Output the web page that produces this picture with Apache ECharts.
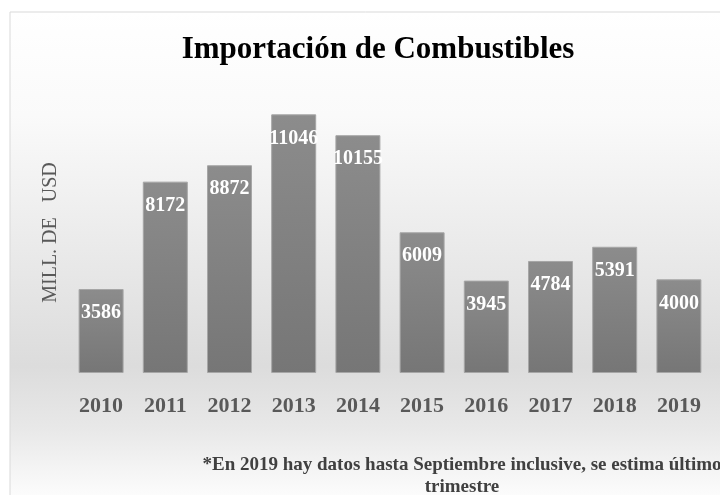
<!DOCTYPE html>
<html><head><meta charset="utf-8">
<script src="https://cdn.jsdelivr.net/npm/echarts@6/dist/echarts.min.js"></script>
<style>html,body{margin:0;padding:0;background:#fff}#c{width:720px;height:495px}</style>
</head><body><div id="c"></div>
<script>
const years = ['2010','2011','2012','2013','2014','2015','2016','2017','2018','2019'];
const values = [3586, 8172, 8872, 11046, 10155, 6009, 3945, 4784, 5391, 4000];
const titleText = 'Importación de Combustibles';
const yName = 'MILL. DE   USD';
const footnote = '*En 2019 hay datos hasta Septiembre inclusive, se estima último\ntrimestre';
const serif = '"Liberation Serif","DejaVu Serif",serif';

const chart = echarts.init(document.getElementById('c'), null, {renderer:'canvas'});
chart.setOption({
  animation:false,
  graphic:[
    {type:'rect', z:-10, shape:{x:10,y:12,width:740,height:520},
     style:{stroke:'#d9d9d9', lineWidth:1,
       fill:{type:'linear',x:0,y:0,x2:0,y2:1,colorStops:[
         {offset:0,color:'#ffffff'},{offset:0.2,color:'#fafafa'},{offset:0.68,color:'#dcdcdc'},{offset:0.8,color:'#e8e8e8'},{offset:0.95,color:'#ffffff'},{offset:1,color:'#ffffff'}]}}},
    {type:'text', x:462, y:476, style:{text:footnote, font:'bold 19px '+serif, fill:'#404040', textAlign:'center', textVerticalAlign:'middle', lineHeight:22}}
  ],
  title:{text:titleText, left:373, top:29, textAlign:'center',
    textStyle:{fontFamily:serif, fontWeight:'bold', fontSize:31, color:'#000'}},
  grid:{left:69, right:9, top:92, bottom:122},
  xAxis:{type:'category', data:years, axisLine:{show:false}, axisTick:{show:false},
    axisLabel:{fontFamily:serif, fontWeight:'bold', fontSize:22, color:'#595959', margin:22}},
  yAxis:{type:'value', min:0, max:12000, show:true, splitLine:{show:false}, axisLabel:{show:false}, axisLine:{show:false}, axisTick:{show:false},
    name:yName, nameLocation:'middle', nameGap:8, nameRotate:90,
    nameTextStyle:{fontFamily:serif, fontSize:20, color:'#595959'}},
  series:[{type:'bar', data:values, barWidth:45,
    itemStyle:{color:{type:'linear',x:0,y:0,x2:0,y2:1,colorStops:[{offset:0,color:'#8c8c8c'},{offset:1,color:'#767676'}]},
      borderColor:'#a6a6a6', borderWidth:1},
    label:{show:true, position:'insideTop', distance:14, fontFamily:serif, fontWeight:'bold', fontSize:20, color:'#ffffff'}}]
});
</script></body></html>
